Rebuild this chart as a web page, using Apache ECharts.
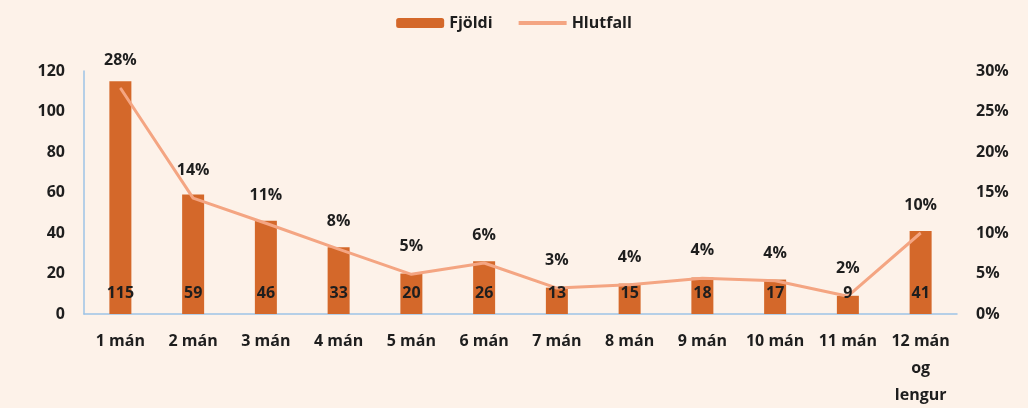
<!DOCTYPE html>
<html>
<head>
<meta charset="utf-8">
<script src="https://cdn.jsdelivr.net/npm/echarts@6/dist/echarts.min.js"></script>
<style>
  html, body { margin: 0; padding: 0; background: #fdf2e9; }
  #chart { width: 1028px; height: 408px; }
</style>
</head>
<body>
<div id="chart"></div>
<script>
const categories = ['1 mán', '2 mán', '3 mán', '4 mán', '5 mán', '6 mán', '7 mán', '8 mán', '9 mán', '10 mán', '11 mán', '12 mán\nog\nlengur'];
const fjoldi = [115, 59, 46, 33, 20, 26, 13, 15, 18, 17, 9, 41];
const hlutfall = [27.9, 14.3, 11.2, 8.0, 4.9, 6.3, 3.2, 3.6, 4.4, 4.1, 2.2, 10.0];

const font = '"Open Sans", Lato, sans-serif';
const textCol = '#1e1e1e';

const chart = echarts.init(document.getElementById('chart'));

chart.setOption({
  backgroundColor: '#fdf2e9',
  textStyle: { fontFamily: font },
  legend: {
    top: 10,
    left: 'center',
    itemWidth: 48,
    itemHeight: 10,
    itemGap: 24,
    textStyle: { color: textCol, fontWeight: 'bold', fontSize: 16, fontFamily: font },
    data: [
      { name: 'Fjöldi' },
      { name: 'Hlutfall', itemStyle: { opacity: 0 }, lineStyle: { width: 4 } }
    ]
  },
  grid: { left: 84, right: 71, top: 71, bottom: 94, outerBoundsMode: 'none', containLabel: false },
  xAxis: {
    type: 'category',
    data: categories,
    axisLine: { lineStyle: { color: '#9dc3e6', width: 1.5 } },
    axisTick: { show: false },
    axisLabel: {
      color: textCol, fontWeight: 'bold', fontSize: 16, fontFamily: font,
      margin: 14, lineHeight: 27, interval: 0
    }
  },
  yAxis: [
    {
      type: 'value', min: 0, max: 120, interval: 20,
      axisLine: { show: true, lineStyle: { color: '#9dc3e6', width: 1.5 } },
      axisTick: { show: false },
      splitLine: { show: false },
      axisLabel: { color: textCol, fontWeight: 'bold', fontSize: 16, fontFamily: font, margin: 19 }
    },
    {
      type: 'value', min: 0, max: 30, interval: 5,
      axisLine: { show: false },
      axisTick: { show: false },
      splitLine: { show: false },
      axisLabel: {
        color: textCol, fontWeight: 'bold', fontSize: 16, fontFamily: font, margin: 19,
        formatter: '{value}%'
      }
    }
  ],
  series: [
    {
      name: 'Fjöldi',
      type: 'bar',
      data: fjoldi,
      barWidth: 22,
      z: 2,
      itemStyle: { color: '#d4682a' }
    },
    {
      name: 'Hlutfall',
      type: 'line',
      yAxisIndex: 1,
      data: hlutfall,
      symbol: 'circle',
      symbolSize: 1,
      z: 3,
      lineStyle: { color: '#f4a582', width: 3 },
      itemStyle: { color: '#f4a582' },
      label: {
        show: true, position: 'top', distance: 19,
        color: textCol, fontWeight: 'bold', fontSize: 16, fontFamily: font,
        formatter: p => Math.round(p.value) + '%'
      }
    },
    {
      // labels of the bars, kept above the line
      name: 'Fjöldi merki',
      type: 'bar',
      data: fjoldi,
      barWidth: 22,
      barGap: '-100%',
      z: 5,
      silent: true,
      itemStyle: { color: 'rgba(0,0,0,0)' },
      label: {
        show: true, position: 'insideBottom', distance: 13,
        color: textCol, fontWeight: 'bold', fontSize: 16, fontFamily: font
      }
    }
  ]
});
</script>
</body>
</html>
